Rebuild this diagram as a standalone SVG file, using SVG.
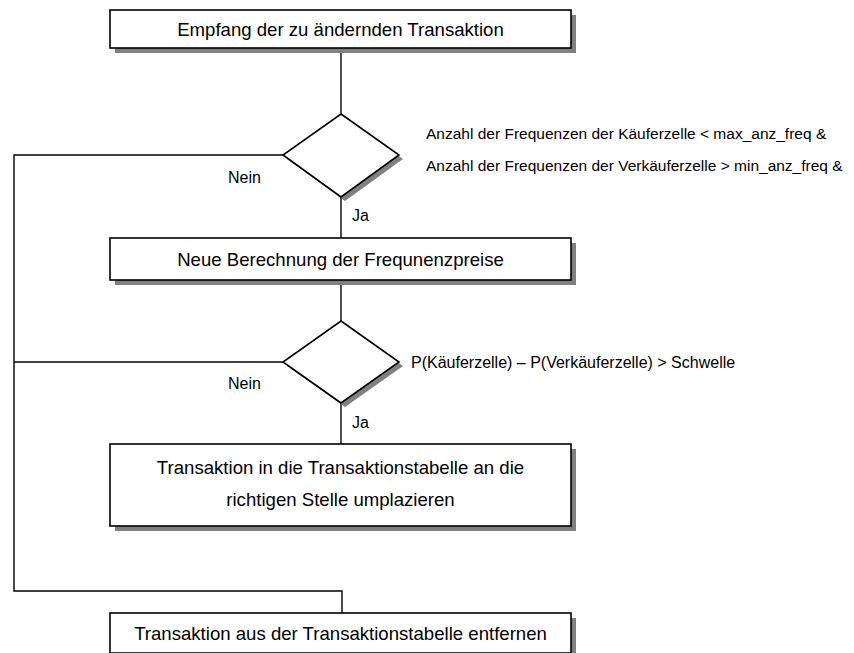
<svg xmlns="http://www.w3.org/2000/svg" width="854" height="653" viewBox="0 0 854 653">
<style>
.box{fill:#fff;stroke:#000;stroke-width:1.6}
.shadow{fill:#808080;stroke:none}
.bt{font-family:"Liberation Sans",Arial,sans-serif;font-size:18.6px;fill:#000;text-anchor:middle}
.lt{font-family:"Liberation Sans",Arial,sans-serif;font-size:16px;fill:#000}
.ct{font-family:"Liberation Sans",Arial,sans-serif;font-size:15.5px;fill:#000}
.conn{fill:none;stroke:#000;stroke-width:1.4}
</style>
<rect width="854" height="653" fill="#fff"/>
<g id="connectors">
<path class="conn" d="M341 48 V114"/>
<path class="conn" d="M341 197 V238"/>
<path class="conn" d="M341 280 V321"/>
<path class="conn" d="M341 403 V444"/>
<path class="conn" d="M283 155 H14 V591 H342 V613"/>
<path class="conn" d="M283 362 H14"/>
<text class="lt" x="228" y="183">Nein</text>
<text class="lt" x="352" y="221">Ja</text>
<text class="lt" x="228" y="389">Nein</text>
<text class="lt" x="352" y="428">Ja</text>
</g>
<g id="n1">
<rect class="shadow" x="115" y="15" width="461" height="38"/>
<rect class="box" x="110" y="10" width="461" height="38"/>
<text class="bt" x="340.5" y="35.5">Empfang der zu ändernden Transaktion</text>
</g>
<g id="d1">
<polygon class="shadow" points="345,118 403,159 345,201 287,159"/>
<polygon class="box" points="341,114 399,155 341,197 283,155"/>
<text class="ct" x="426" y="139">Anzahl der Frequenzen der Käuferzelle &lt; max_anz_freq &amp;</text>
<text class="ct" x="426" y="171">Anzahl der Frequenzen der Verkäuferzelle &gt; min_anz_freq &amp;</text>
</g>
<g id="n2">
<rect class="shadow" x="115" y="243" width="461" height="42"/>
<rect class="box" x="110" y="238" width="461" height="42"/>
<text class="bt" x="340.5" y="265.5">Neue Berechnung der Frequnenzpreise</text>
</g>
<g id="d2">
<polygon class="shadow" points="345,325 403,366 345,407 287,366"/>
<polygon class="box" points="341,321 399,362 341,403 283,362"/>
<text class="lt" x="411" y="368">P(Käuferzelle) – P(Verkäuferzelle) &gt; Schwelle</text>
</g>
<g id="n3">
<rect class="shadow" x="115" y="449" width="461" height="82"/>
<rect class="box" x="110" y="444" width="461" height="82"/>
<text class="bt" x="340.5" y="473.5">Transaktion in die Transaktionstabelle an die</text>
<text class="bt" x="340.5" y="505.5">richtigen Stelle umplazieren</text>
</g>
<g id="n4">
<rect class="shadow" x="115" y="618" width="461" height="40"/>
<rect class="box" x="110" y="613" width="461" height="40"/>
<text class="bt" x="340.5" y="640">Transaktion aus der Transaktionstabelle entfernen</text>
</g>
</svg>
